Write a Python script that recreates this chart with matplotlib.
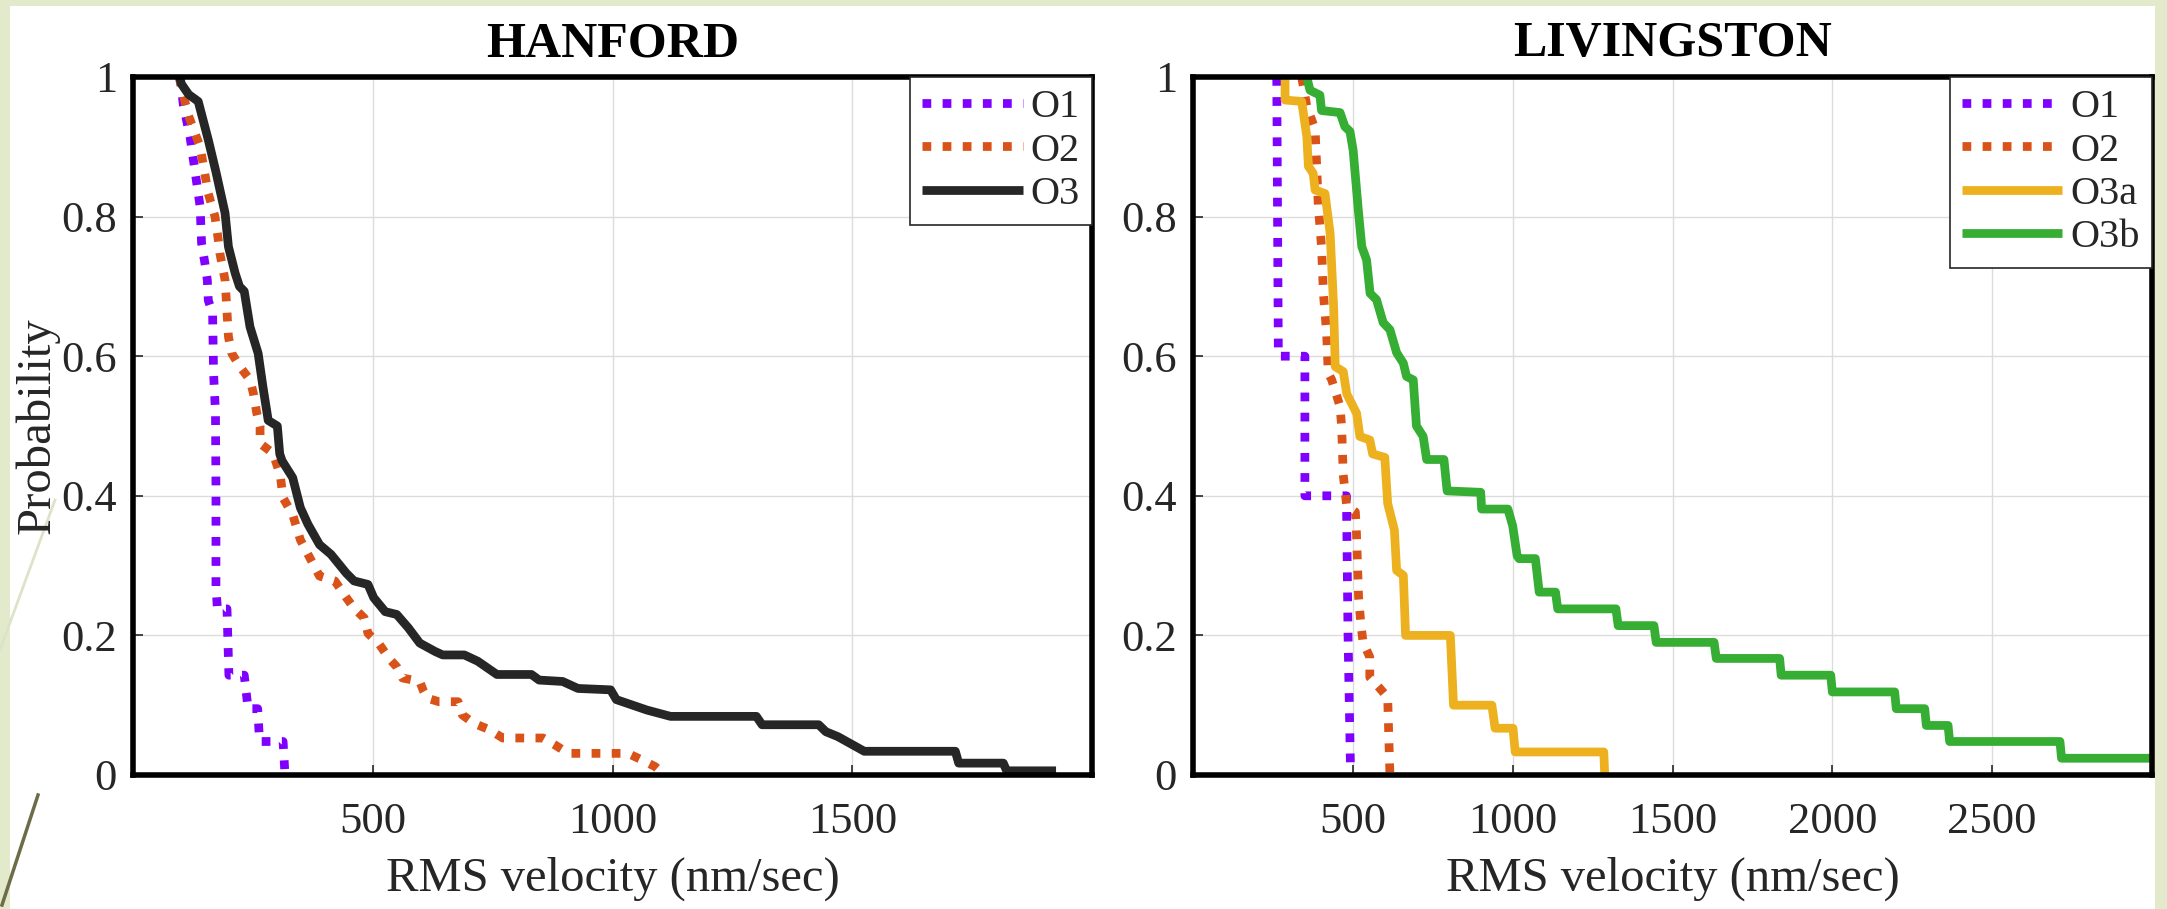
import matplotlib
matplotlib.use('Agg')
import matplotlib.pyplot as plt
from matplotlib.patches import Rectangle
from matplotlib.lines import Line2D

plt.rcParams['font.family'] = ['Liberation Serif', 'DejaVu Serif']

# ---------------- data ----------------
titles = ['HANFORD', 'LIVINGSTON']
xlabel_text = 'RMS velocity (nm/sec)'
ylabel_text = 'Probability'
yticks = [0, 0.2, 0.4, 0.6, 0.8, 1.0]
ytick_labels = ['0', '0.2', '0.4', '0.6', '0.8', '1']
han_xticks = [500, 1000, 1500]
liv_xticks = [500, 1000, 1500, 2000, 2500]
han_xlim = (0, 2000)
liv_xlim = (0, 3000)

# Hanford
han_o1_v = [98, 105, 119, 129, 140, 143, 150, 155, 157, 166, 168, 172, 173, 173, 176, 196,
            200, 232, 240, 260, 264, 313, 317]
han_o1_p = [1.0, 0.96, 0.914, 0.867, 0.814, 0.762, 0.733, 0.709, 0.68, 0.662, 0.576, 0.52,
            0.41, 0.27, 0.238, 0.238, 0.143, 0.143, 0.095, 0.095, 0.048, 0.048, 0.0]

han_o2_v = [96, 115, 140, 157, 171, 178, 181, 192, 195, 199, 206, 223, 244, 251, 258, 265,
            265, 292, 307, 313, 333, 349, 365, 389, 421, 445, 461, 482, 490, 514, 534, 550,
            562, 598, 606, 614, 638, 678, 687, 711, 743, 771, 855, 880, 908, 1032, 1060,
            1089, 1109]
han_o2_p = [1.0, 0.946, 0.90, 0.833, 0.80, 0.766, 0.748, 0.709, 0.676, 0.628, 0.604, 0.585,
            0.566, 0.547, 0.519, 0.499, 0.475, 0.461, 0.43, 0.397, 0.373, 0.337, 0.316, 0.285,
            0.278, 0.254, 0.239, 0.225, 0.203, 0.187, 0.167, 0.155, 0.139, 0.134, 0.120,
            0.110, 0.105, 0.105, 0.086, 0.074, 0.065, 0.053, 0.053, 0.043, 0.031, 0.031,
            0.022, 0.012, 0.0]

han_o3_v = [97, 101, 116, 136, 157, 173, 192, 199, 213, 222, 232, 244, 261, 271, 282, 301,
            306, 311, 333, 349, 365, 389, 413, 445, 461, 490, 502, 526, 550, 574, 598, 630,
            646, 691, 719, 759, 831, 847, 896, 928, 996, 1008, 1072, 1121, 1300, 1312, 1430,
            1445, 1470, 1525, 1715, 1722, 1815, 1822, 1925]
han_o3_p = [1.0, 0.99, 0.975, 0.965, 0.91, 0.864, 0.805, 0.757, 0.719, 0.70, 0.693, 0.642,
            0.604, 0.556, 0.508, 0.50, 0.46, 0.45, 0.426, 0.383, 0.359, 0.330, 0.316, 0.289,
            0.278, 0.273, 0.254, 0.234, 0.230, 0.211, 0.189, 0.177, 0.172, 0.172, 0.163,
            0.144, 0.144, 0.136, 0.134, 0.124, 0.122, 0.108, 0.093, 0.084, 0.084, 0.072,
            0.072, 0.062, 0.055, 0.034, 0.034, 0.017, 0.017, 0.006, 0.006]

# Livingston
liv_o1_v = [262, 267, 350, 350, 480, 485, 493]
liv_o1_p = [1.0, 0.6, 0.6, 0.4, 0.4, 0.2, 0.0]

liv_o2_v = [340, 356, 382, 387, 392, 402, 408, 418, 423, 434, 460, 465, 470, 481, 508, 511,
            518, 525, 532, 553, 553, 581, 609, 616]
liv_o2_p = [1.0, 0.958, 0.925, 0.872, 0.815, 0.757, 0.69, 0.633, 0.576, 0.566, 0.528, 0.499,
            0.43, 0.385, 0.377, 0.351, 0.255, 0.217, 0.19, 0.169, 0.14, 0.126, 0.111, 0.0]

liv_o3a_v = [288, 288, 340, 356, 361, 376, 382, 413, 429, 440, 445, 470, 481, 512, 522, 553,
             562, 600, 609, 630, 637, 658, 665, 805, 815, 935, 945, 1001, 1008, 1285, 1288]
liv_o3a_p = [1.0, 0.967, 0.965, 0.915, 0.872, 0.862, 0.838, 0.833, 0.776, 0.67, 0.585, 0.578,
             0.546, 0.518, 0.485, 0.48, 0.46, 0.455, 0.389, 0.351, 0.293, 0.286, 0.2, 0.2,
             0.1, 0.1, 0.067, 0.067, 0.033, 0.033, 0.0]

liv_o3b_v = [356, 366, 397, 402, 460, 475, 491, 501, 517, 528, 543, 554, 574, 595, 616, 637,
             658, 668, 689, 699, 720, 731, 785, 795, 900, 903, 985, 1000, 1014, 1020, 1071,
             1083, 1134, 1141, 1323, 1330, 1442, 1449, 1630, 1637, 1835, 1840, 1995, 2000,
             2195, 2200, 2289, 2294, 2362, 2367, 2712, 2717, 2994]
liv_o3b_p = [1.0, 0.981, 0.974, 0.952, 0.949, 0.929, 0.922, 0.895, 0.81, 0.757, 0.738, 0.69,
             0.681, 0.648, 0.638, 0.605, 0.59, 0.571, 0.566, 0.5, 0.485, 0.452, 0.452, 0.407,
             0.405, 0.381, 0.381, 0.357, 0.314, 0.31, 0.31, 0.262, 0.262, 0.238, 0.238, 0.214,
             0.214, 0.19, 0.19, 0.167, 0.167, 0.143, 0.143, 0.119, 0.119, 0.095, 0.095, 0.071,
             0.071, 0.048, 0.048, 0.024, 0.024]

C_O1 = '#8000FF'
C_O2 = '#D95319'
C_O3 = '#262626'
C_O3A = '#EDB120'
C_O3B = '#36AD33'

LW = 6.3
DOT = (0, (1.0, 1.3))

# ---------------- figure ----------------
W, H = 2167, 909
fig = plt.figure(figsize=(W / 100, H / 100), dpi=100, facecolor='#E3EACB')
fig.patches.append(Rectangle((10 / W, 0), (2155 - 10) / W, (H - 6) / H,
                             transform=fig.transFigure, facecolor='white',
                             edgecolor='none', zorder=-10))
# slide decoration lines at the far left
fig.add_artist(Line2D([0 / W, 55 / W], [1 - 650 / H, 1 - 500 / H],
                      color='#dde3c8', lw=2.0, zorder=-5))
fig.add_artist(Line2D([2 / W, 38 / W], [1 - 905 / H, 1 - 795 / H],
                      color='#6e6c48', lw=2.5, zorder=-5))


def make_axes(left_px):
    left = left_px / W
    bottom = (H - 775) / H
    width = 959 / W
    height = 698 / H
    ax = fig.add_axes([left, bottom, width, height])
    ax.set_zorder(2)
    return ax


def style(ax, xlim, xticks, title):
    ax.set_xlim(*xlim)
    ax.set_ylim(0, 1)
    ax.set_xticks(xticks)
    ax.set_xticklabels([str(t) for t in xticks])
    ax.set_yticks(yticks)
    ax.set_yticklabels(ytick_labels)
    ax.grid(True, color='#dcdcdc', lw=1.0)
    ax.set_axisbelow(True)
    for s in ax.spines.values():
        s.set_linewidth(4.0)
        s.set_color('black')
        s.set_zorder(3)
    ax.tick_params(direction='in', length=7, width=1.2, labelsize=32,
                   color='#262626', labelcolor='#262626')
    ax.tick_params(axis='x', pad=19.5)
    ax.tick_params(axis='y', pad=11.5)
    ax.set_title(title, fontsize=36, fontweight='bold', pad=15, color='black')
    ax.set_xlabel(xlabel_text, fontsize=35, color='#262626')
    ax.xaxis.label.set_va('center')
    ax.xaxis.set_label_coords(0.5, -0.149)


def finish_legend(ax):
    leg = ax.legend(loc='upper right', bbox_to_anchor=(1, 1), borderaxespad=0,
                    fontsize=29, frameon=True, fancybox=False, edgecolor='#262626',
                    framealpha=1, handlelength=2.5, handletextpad=0.2,
                    labelspacing=0.15, borderpad=0.3)
    leg.get_frame().set_linewidth(1.2)
    for t in leg.get_texts():
        t.set_color('#262626')
    leg.set_zorder(5)


def draw(ax, v, p, color, label, dotted):
    kw = dict(color=color, lw=LW, label=label, solid_joinstyle='round',
              solid_capstyle='butt', dash_capstyle='butt')
    if dotted:
        kw['linestyle'] = DOT
    ax.plot(v, p, **kw)


# Hanford
axL = make_axes(133)
draw(axL, han_o1_v, han_o1_p, C_O1, 'O1', True)
draw(axL, han_o2_v, han_o2_p, C_O2, 'O2', True)
draw(axL, han_o3_v, han_o3_p, C_O3, 'O3', False)
style(axL, han_xlim, han_xticks, titles[0])
axL.set_ylabel(ylabel_text, fontsize=35, color='#262626')
axL.yaxis.label.set_va('center')
axL.yaxis.set_label_coords(-0.100, 0.5)
finish_legend(axL)

# Livingston
axR = make_axes(1193)
draw(axR, liv_o1_v, liv_o1_p, C_O1, 'O1', True)
draw(axR, liv_o2_v, liv_o2_p, C_O2, 'O2', True)
draw(axR, liv_o3a_v, liv_o3a_p, C_O3A, 'O3a', False)
draw(axR, liv_o3b_v, liv_o3b_p, C_O3B, 'O3b', False)
style(axR, liv_xlim, liv_xticks, titles[1])
finish_legend(axR)

fig.savefig('out.png', dpi=100, facecolor=fig.get_facecolor())
